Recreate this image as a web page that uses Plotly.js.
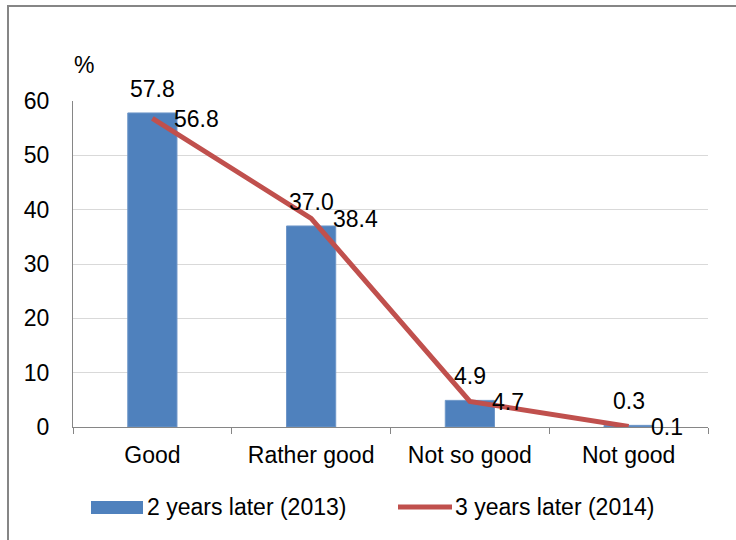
<!DOCTYPE html>
<html>
<head>
<meta charset="utf-8">
<script src="https://cdn.plot.ly/plotly-3.0.1.min.js"></script>
<style>
html,body{margin:0;padding:0;background:#fff;overflow:hidden;}
#wrap{position:relative;width:736px;height:540px;}
#chart{width:736px;height:540px;}
#frame{position:absolute;left:7px;top:5px;width:760px;height:560px;border-left:2px solid #868686;border-top:2px solid #868686;pointer-events:none;}
</style>
</head>
<body>
<div id="wrap"><div id="chart"></div><div id="frame"></div></div>
<script>
const categories = ['Good', 'Rather good', 'Not so good', 'Not good'];
const values2013 = [57.8, 37.0, 4.9, 0.3];
const values2014 = [56.8, 38.4, 4.7, 0.1];
const seriesNames = ['2 years later (2013)', '3 years later (2014)'];
const yTicks = [0, 10, 20, 30, 40, 50, 60];

const W = 736, H = 540;
const L = 73, R = 708, T = 101, B = 427;
const px = v => (v - L) / (R - L);
const py = v => (B - v) / (B - T);

const FONT = 'Liberation Sans, Arial, sans-serif';
const FS = 23;
const BLUE = '#4f81bd';
const RED = '#c0504d';

const traces = [
  {
    type: 'bar', x: categories, y: values2013, name: seriesNames[0],
    marker: {color: BLUE, line: {color: '#6e96c8', width: 1}},
    hoverinfo: 'none', showlegend: false
  },
  {
    type: 'scatter', mode: 'lines', x: categories, y: values2014, name: seriesNames[1],
    line: {color: RED, width: 5},
    hoverinfo: 'none', showlegend: false
  }
];

const annotations = [];
categories.forEach((c, i) => {
  annotations.push({
    x: c, y: values2013[i], xref: 'x', yref: 'y',
    text: values2013[i].toFixed(1), showarrow: false,
    xanchor: 'center', yanchor: 'middle', yshift: 24,
    font: {family: FONT, size: FS, color: '#000'}
  });
  annotations.push({
    x: c, y: values2014[i], xref: 'x', yref: 'y',
    text: values2014[i].toFixed(1), showarrow: false,
    xanchor: 'left', yanchor: 'middle', xshift: 20, yshift: -1,
    font: {family: FONT, size: FS, color: '#000'}
  });
});
// unit label
annotations.push({
  x: px(84), y: py(65), xref: 'paper', yref: 'paper', text: '%', showarrow: false,
  xanchor: 'center', yanchor: 'middle', font: {family: FONT, size: FS, color: '#000'}
});
// legend texts
annotations.push({
  x: px(145), y: py(507), xref: 'paper', yref: 'paper', text: seriesNames[0], showarrow: false,
  xanchor: 'left', yanchor: 'middle', font: {family: FONT, size: FS, color: '#000'}
});
annotations.push({
  x: px(453), y: py(507), xref: 'paper', yref: 'paper', text: seriesNames[1], showarrow: false,
  xanchor: 'left', yanchor: 'middle', font: {family: FONT, size: FS, color: '#000'}
});

const shapes = [
  {type: 'rect', xref: 'paper', yref: 'paper', x0: px(91), x1: px(143), y0: py(501), y1: py(514),
   line: {width: 0}, fillcolor: BLUE},
  {type: 'line', xref: 'paper', yref: 'paper', x0: px(398), x1: px(452), y0: py(507), y1: py(507),
   line: {color: RED, width: 5}}
];

const layout = {
  width: W, height: H,
  margin: {l: L, r: W - R, t: T, b: H - B, pad: 0},
  paper_bgcolor: '#fff', plot_bgcolor: '#fff',
  font: {family: FONT, size: FS, color: '#000'},
  bargap: 0.69,
  showlegend: false,
  xaxis: {
    type: 'category', showline: true, linecolor: '#868686', linewidth: 1,
    ticks: 'outside', tickson: 'boundaries', ticklen: 6, tickcolor: '#868686', tickwidth: 1,
    showgrid: false, ticklabelstandoff: 7, fixedrange: true,
    tickfont: {family: FONT, size: FS, color: '#000'}
  },
  yaxis: {
    range: [0, 60], tickvals: yTicks, ticktext: yTicks.map(String),
    showline: true, linecolor: '#868686', linewidth: 1,
    showgrid: true, gridcolor: '#d9d9d9', gridwidth: 1, zeroline: false,
    ticks: '', ticklabelstandoff: 18, fixedrange: true,
    tickfont: {family: FONT, size: FS, color: '#000'}
  },
  annotations: annotations,
  shapes: shapes
};

Plotly.newPlot('chart', traces, layout, {displayModeBar: false, staticPlot: true});
</script>
</body>
</html>
